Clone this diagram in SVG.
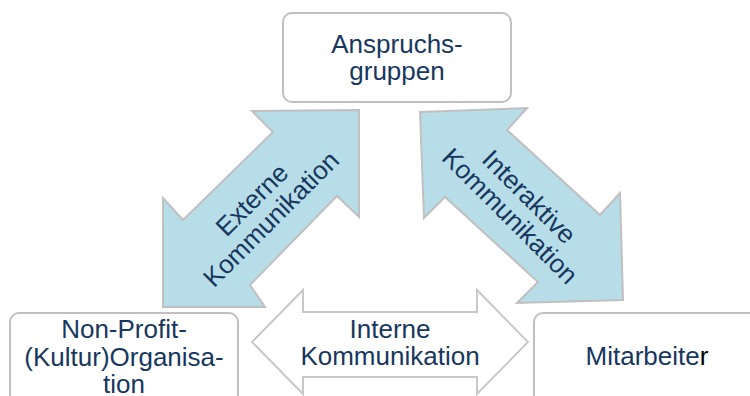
<svg xmlns="http://www.w3.org/2000/svg" width="750" height="396" viewBox="0 0 750 396">
<style>
.box{fill:#ffffff;stroke:#c0c0c0;stroke-width:2}
.blue{fill:#b7dde8;stroke:#c0c0c0;stroke-width:2;stroke-linejoin:miter}
.white{fill:#ffffff;stroke:#c8c8c8;stroke-width:2}
text{font-family:"Liberation Sans",Arial,sans-serif;font-size:26px;fill:#17375e;text-anchor:middle}
</style>
<rect width="750" height="396" fill="#ffffff"/>
<g id="connectors">
<g id="externe">
<polygon class="blue" points="359,110 359,217 337,196 250,285 265,307 163,307 163,198 183,220 273,132 252,111"/>
<g transform="translate(261,209) rotate(-45)">
<text x="0" y="-4">Externe</text>
<text x="0" y="23">Kommunikation</text>
</g>
</g>
<g id="interaktive">
<polygon class="blue" points="420,112 527,108 507,130 600,215 620,193 623,300 517,303 538,282 445,197 424,218"/>
<g transform="translate(520,206) rotate(45)">
<text x="0" y="-4">Interaktive</text>
<text x="0" y="23">Kommunikation</text>
</g>
</g>
<g id="interne">
<polygon class="white" points="252,342 303,290 303,312 477,312 477,290 528,342 477,394 477,377 303,377 303,394"/>
<text x="390" y="338">Interne</text>
<text x="390" y="365">Kommunikation</text>
</g>
</g>
<g id="anspruchsgruppen">
<rect class="box" x="283" y="13" width="228" height="89" rx="9"/>
<text x="397" y="53">Anspruchs-</text>
<text x="397" y="80">gruppen</text>
</g>
<g id="organisation">
<rect class="box" x="10" y="313" width="228" height="100" rx="9"/>
<text x="124" y="338">Non-Profit-</text>
<text x="124" y="366">(Kultur)Organisa-</text>
<text x="124" y="393">tion</text>
</g>
<g id="mitarbeiter">
<rect class="box" x="534" y="313" width="240" height="100" rx="9"/>
<text x="647" y="365">Mitarbeite<tspan fill="#000000">r</tspan></text>
</g>
</svg>
